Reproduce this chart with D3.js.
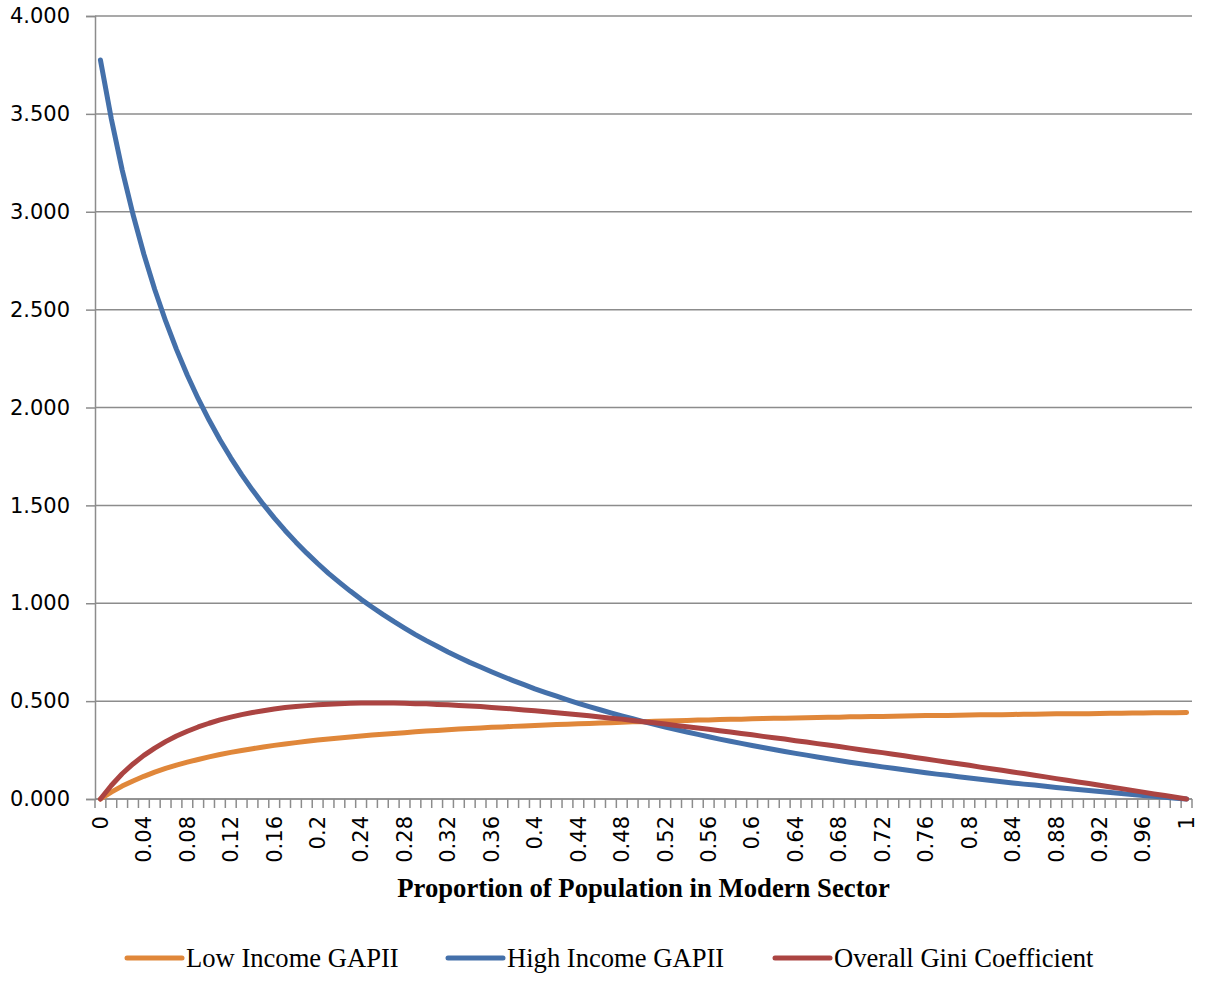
<!DOCTYPE html>
<html>
<head>
<meta charset="utf-8">
<script src="https://cdn.jsdelivr.net/npm/d3@7"></script>
<style>
  body { margin: 0; background: #fff; }
  svg { display: block; }
</style>
</head>
<body>
<div id="chart"></div>
<script>
// proportion of population in modern sector (category axis)
const categories = [
  0, 0.01, 0.02, 0.03, 0.04, 0.05, 0.06, 0.07, 0.08, 0.09,
  0.1, 0.11, 0.12, 0.13, 0.14, 0.15, 0.16, 0.17, 0.18, 0.19,
  0.2, 0.21, 0.22, 0.23, 0.24, 0.25, 0.26, 0.27, 0.28, 0.29,
  0.3, 0.31, 0.32, 0.33, 0.34, 0.35, 0.36, 0.37, 0.38, 0.39,
  0.4, 0.41, 0.42, 0.43, 0.44, 0.45, 0.46, 0.47, 0.48, 0.49,
  0.5, 0.51, 0.52, 0.53, 0.54, 0.55, 0.56, 0.57, 0.58, 0.59,
  0.6, 0.61, 0.62, 0.63, 0.64, 0.65, 0.66, 0.67, 0.68, 0.69,
  0.7, 0.71, 0.72, 0.73, 0.74, 0.75, 0.76, 0.77, 0.78, 0.79,
  0.8, 0.81, 0.82, 0.83, 0.84, 0.85, 0.86, 0.87, 0.88, 0.89,
  0.9, 0.91, 0.92, 0.93, 0.94, 0.95, 0.96, 0.97, 0.98, 0.99,
  1
]

const lowIncome = [
  0, 0.035, 0.066, 0.092, 0.116, 0.137, 0.156, 0.173, 0.188, 0.202,
  0.215, 0.227, 0.238, 0.248, 0.257, 0.266, 0.274, 0.281, 0.288, 0.295,
  0.301, 0.307, 0.312, 0.317, 0.322, 0.327, 0.331, 0.335, 0.339, 0.343,
  0.347, 0.350, 0.354, 0.357, 0.360, 0.363, 0.366, 0.368, 0.371, 0.373,
  0.376, 0.378, 0.380, 0.382, 0.384, 0.386, 0.388, 0.390, 0.392, 0.394,
  0.395, 0.397, 0.398, 0.400, 0.401, 0.403, 0.404, 0.406, 0.407, 0.408,
  0.410, 0.411, 0.412, 0.413, 0.414, 0.415, 0.416, 0.417, 0.418, 0.420,
  0.420, 0.421, 0.422, 0.423, 0.424, 0.425, 0.426, 0.427, 0.427, 0.428,
  0.429, 0.430, 0.431, 0.431, 0.432, 0.433, 0.433, 0.434, 0.435, 0.435,
  0.436, 0.436, 0.437, 0.438, 0.438, 0.439, 0.439, 0.440, 0.441, 0.441,
  0.442
]

const highIncome = [
  3.775, 3.475, 3.214, 2.986, 2.783, 2.603, 2.442, 2.297, 2.165, 2.045,
  1.936, 1.835, 1.743, 1.657, 1.578, 1.505, 1.436, 1.372, 1.312, 1.256,
  1.203, 1.153, 1.107, 1.062, 1.020, 0.981, 0.943, 0.907, 0.873, 0.840,
  0.809, 0.780, 0.751, 0.724, 0.698, 0.674, 0.650, 0.627, 0.605, 0.584,
  0.563, 0.544, 0.525, 0.507, 0.489, 0.472, 0.456, 0.440, 0.425, 0.410,
  0.395, 0.381, 0.368, 0.355, 0.342, 0.330, 0.318, 0.306, 0.295, 0.284,
  0.273, 0.263, 0.253, 0.243, 0.233, 0.224, 0.215, 0.206, 0.197, 0.188,
  0.180, 0.172, 0.164, 0.157, 0.149, 0.142, 0.134, 0.127, 0.121, 0.114,
  0.107, 0.101, 0.095, 0.088, 0.082, 0.076, 0.071, 0.065, 0.059, 0.054,
  0.048, 0.043, 0.038, 0.033, 0.028, 0.023, 0.018, 0.014, 0.009, 0.004,
  0
]

const gini = [
  0, 0.069, 0.129, 0.179, 0.223, 0.260, 0.293, 0.322, 0.346, 0.368,
  0.387, 0.404, 0.418, 0.431, 0.442, 0.451, 0.460, 0.467, 0.472, 0.477,
  0.481, 0.484, 0.487, 0.489, 0.490, 0.490, 0.490, 0.490, 0.489, 0.487,
  0.486, 0.483, 0.481, 0.478, 0.475, 0.472, 0.468, 0.464, 0.460, 0.455,
  0.451, 0.446, 0.441, 0.436, 0.430, 0.425, 0.419, 0.413, 0.408, 0.401,
  0.395, 0.389, 0.383, 0.376, 0.369, 0.363, 0.356, 0.349, 0.342, 0.335,
  0.328, 0.320, 0.313, 0.306, 0.298, 0.291, 0.283, 0.276, 0.268, 0.260,
  0.252, 0.244, 0.237, 0.229, 0.221, 0.212, 0.204, 0.196, 0.188, 0.180,
  0.172, 0.163, 0.155, 0.147, 0.138, 0.130, 0.121, 0.113, 0.104, 0.096,
  0.087, 0.079, 0.070, 0.061, 0.053, 0.044, 0.035, 0.026, 0.018, 0.009,
  0
]

const yTicks = [0, 0.5, 1, 1.5, 2, 2.5, 3, 3.5, 4]
const seriesNames = ['Low Income GAPII', 'High Income GAPII', 'Overall Gini Coefficient']
const seriesColors = ['#e0873a', '#4470aa', '#ab4442']

const width = 1207, height = 994
const margin = {top: 16, right: 15, bottom: 195, left: 95}

const svg = d3.select('#chart').append('svg')
    .attr('width', width)
    .attr('height', height)

const x = d3.scalePoint()
    .domain(categories)
    .range([margin.left, width - margin.right])
    .padding(0.5)

const xBand = d3.scaleBand()
    .domain(categories)
    .range([margin.left, width - margin.right])

const y = d3.scaleLinear()
    .domain([0, 4])
    .range([height - margin.bottom, margin.top])

const grid = '#8c8c8c'

// horizontal gridlines
svg.append('g')
  .selectAll('line')
  .data(yTicks)
  .join('line')
    .attr('x1', margin.left)
    .attr('x2', width - margin.right)
    .attr('y1', d => y(d))
    .attr('y2', d => y(d))
    .attr('stroke', grid)
    .attr('stroke-width', 1.5)

// y axis
const yAxis = svg.append('g')
    .attr('transform', `translate(${margin.left},0)`)
    .call(d3.axisLeft(y).tickValues(yTicks).tickFormat(d3.format('.3f')).tickSize(9).tickPadding(16))
yAxis.select('.domain').attr('stroke', grid).attr('stroke-width', 1.5)
yAxis.selectAll('.tick line').attr('stroke', grid).attr('stroke-width', 1.5)
yAxis.selectAll('text')
    .attr('font-family', 'DejaVu Sans, sans-serif')
    .attr('font-size', 21)
    .attr('fill', '#000')

// x axis: one tick at every category boundary, labels on every 4th category
const bounds = categories.map(c => xBand(c)).concat([width - margin.right])
svg.append('g')
  .selectAll('line')
  .data(bounds)
  .join('line')
    .attr('x1', d => d)
    .attr('x2', d => d)
    .attr('y1', y(0))
    .attr('y2', y(0) + 9)
    .attr('stroke', grid)
    .attr('stroke-width', 1.5)

svg.append('line')
    .attr('x1', margin.left)
    .attr('x2', width - margin.right)
    .attr('y1', y(0))
    .attr('y2', y(0))
    .attr('stroke', grid)
    .attr('stroke-width', 1.5)

const labelCats = categories.filter((c, i) => i % 4 === 0)
svg.append('g')
  .selectAll('text')
  .data(labelCats)
  .join('text')
    .attr('transform', d => `translate(${x(d)},${y(0) + 17}) rotate(-90)`)
    .attr('text-anchor', 'end')
    .attr('dy', '0.35em')
    .attr('font-family', 'DejaVu Sans, sans-serif')
    .attr('font-size', 21)
    .text(d => String(d))

svg.append('text')
    .attr('x', (margin.left + width - margin.right) / 2)
    .attr('y', 897)
    .attr('text-anchor', 'middle')
    .attr('font-family', 'Liberation Serif, Times New Roman, serif')
    .attr('font-weight', 'bold')
    .attr('font-size', 26.7)
    .text('Proportion of Population in Modern Sector')

// series lines
const allSeries = [lowIncome, highIncome, gini]
const line = d3.line()
    .x((d, i) => x(categories[i]))
    .y(d => y(d))

svg.append('g')
  .selectAll('path')
  .data(allSeries)
  .join('path')
    .attr('d', line)
    .attr('fill', 'none')
    .attr('stroke', (d, i) => seriesColors[i])
    .attr('stroke-width', 5)
    .attr('stroke-linejoin', 'round')
    .attr('stroke-linecap', 'round')

// legend
const legendX = [127, 448, 775]
const legend = svg.append('g')
  .selectAll('g')
  .data(seriesNames)
  .join('g')
    .attr('transform', (d, i) => `translate(${legendX[i]},958)`)
legend.append('line')
    .attr('x1', 0)
    .attr('x2', 55)
    .attr('stroke', (d, i) => seriesColors[i])
    .attr('stroke-width', 5)
    .attr('stroke-linecap', 'round')
legend.append('text')
    .attr('x', 59)
    .attr('dy', '0.35em')
    .attr('font-family', 'Liberation Serif, Times New Roman, serif')
    .attr('font-size', 26.6)
    .text(d => d)
</script>
</body>
</html>
